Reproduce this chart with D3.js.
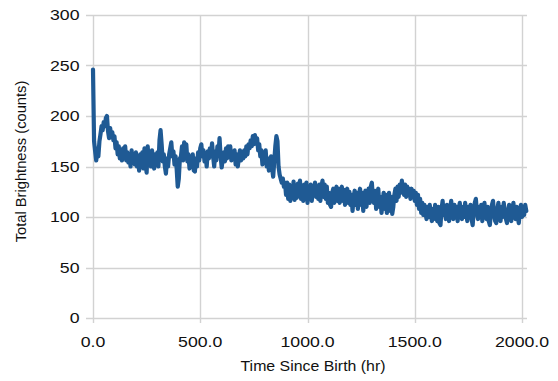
<!DOCTYPE html>
<html>
<head>
<meta charset="utf-8">
<script src="https://cdn.jsdelivr.net/npm/d3@7"></script>
<style>
  html, body { margin: 0; padding: 0; background: #fff; }
  svg { display: block; }
  text { font-family: "Liberation Sans", Arial, sans-serif; fill: #111; }
</style>
</head>
<body>
<svg id="chart" width="558" height="381"></svg>
<script>
// ---- data ----
const xTicks = [0, 500, 1000, 1500, 2000];
const yTicks = [0, 50, 100, 150, 200, 250, 300];
const xTitle = "Time Since Birth (hr)";
const yTitle = "Total Brightness (counts)";
const stepHours = 5; // sampling interval of the brightness series
const brightness = [
  246,175,165,156,168,160,175,182,190,186,194,190,198,200,185,178,188,180,184,176,
  180,168,174,162,170,158,166,156,168,158,170,156,164,154,162,150,166,154,162,152,
  164,150,160,146,162,152,164,148,168,154,144,170,154,164,150,166,156,148,162,154,
  164,150,176,186,172,155,162,150,143,158,150,162,168,174,160,165,152,160,148,130,
  138,158,160,170,156,174,166,172,155,162,148,156,150,162,146,145,158,150,164,156,
  168,172,160,166,155,162,150,165,158,168,160,173,160,150,165,156,170,162,178,160,
  149,158,164,155,168,158,170,162,170,156,164,160,166,152,162,150,158,166,156,164,
  158,166,160,170,162,172,168,176,170,180,172,181,174,178,166,172,160,166,152,160,
  158,166,150,158,146,150,160,148,140,155,170,180,175,150,142,138,134,138,130,134,
  122,134,118,132,116,130,121,135,117,131,119,133,122,136,118,131,116,132,120,134,
  114,128,118,132,116,130,124,134,120,130,118,132,116,130,136,120,132,118,130,114,
  124,112,110,124,128,114,126,130,116,128,114,126,130,116,127,112,124,128,114,125,
  112,122,106,120,126,112,124,108,122,128,112,124,106,120,126,110,122,128,114,130,
  134,118,114,126,108,122,128,110,120,104,114,124,108,122,104,116,124,106,120,103,
  110,122,128,116,130,120,132,124,136,126,122,132,120,130,122,128,118,128,120,126,
  116,124,112,122,108,118,104,114,102,112,104,98,110,100,112,102,96,108,98,112,
  102,96,110,94,92,108,116,102,110,98,112,102,96,108,116,104,98,112,100,110,
  96,108,114,102,98,110,100,114,104,96,110,100,112,98,92,106,114,118,104,98,
  110,100,112,96,108,114,102,98,110,96,92,104,112,116,102,96,94,108,114,102,
  96,110,100,114,104,98,94,106,112,100,96,108,114,102,98,110,100,94,106,112,
  100,110,102,112,106
];
const hours = brightness.map((_, i) => i * stepHours);
const series = hours.map((h, i) => ({ h: h, v: brightness[i] }));

// ---- layout ----
const svg = d3.select("#chart");
const x = d3.scaleLinear().domain([0, 2000]).range([93, 522]);
const y = d3.scaleLinear().domain([0, 300]).range([318, 15]);
const gridColor = "#d2d2d2";
const gridLeft = 86, gridRight = 527, gridBottom = 323;

// horizontal gridlines + y labels
const gy = svg.append("g");
gy.selectAll("line").data(yTicks).join("line")
  .attr("x1", gridLeft).attr("x2", gridRight)
  .attr("y1", d => Math.round(y(d)) + 0.5).attr("y2", d => Math.round(y(d)) + 0.5)
  .attr("stroke", gridColor).attr("stroke-width", 1.4);
gy.selectAll("text").data(yTicks).join("text")
  .attr("transform", d => `translate(79.5,${y(d) + 5.4}) scale(1.18,1)`)
  .attr("text-anchor", "end")
  .attr("font-size", 15)
  .text(d => d);

// vertical gridlines + x labels
const gx = svg.append("g");
gx.selectAll("line").data(xTicks).join("line")
  .attr("x1", d => Math.round(x(d)) + 0.5).attr("x2", d => Math.round(x(d)) + 0.5)
  .attr("y1", y(300)).attr("y2", gridBottom)
  .attr("stroke", gridColor).attr("stroke-width", 1.4);
gx.selectAll("text").data(xTicks).join("text")
  .attr("transform", d => `translate(${x(d)},347.3) scale(1.18,1)`)
  .attr("text-anchor", "middle")
  .attr("font-size", 15)
  .text(d => d3.format(".1f")(d));

// axis titles
svg.append("text")
  .attr("transform", "translate(313,370.5) scale(1.06,1)")
  .attr("text-anchor", "middle")
  .attr("font-size", 15)
  .text(xTitle);
svg.append("text")
  .attr("transform", "translate(26,161.5) rotate(-90)")
  .attr("text-anchor", "middle")
  .attr("font-size", 14.7)
  .text(yTitle);

// data line
const line = d3.line().x(d => x(d.h)).y(d => y(d.v));
svg.append("path")
  .datum(series)
  .attr("d", line)
  .attr("fill", "none")
  .attr("stroke", "#1f5a94")
  .attr("stroke-width", 4.2)
  .attr("stroke-linejoin", "round")
  .attr("stroke-linecap", "round");
</script>
</body>
</html>
